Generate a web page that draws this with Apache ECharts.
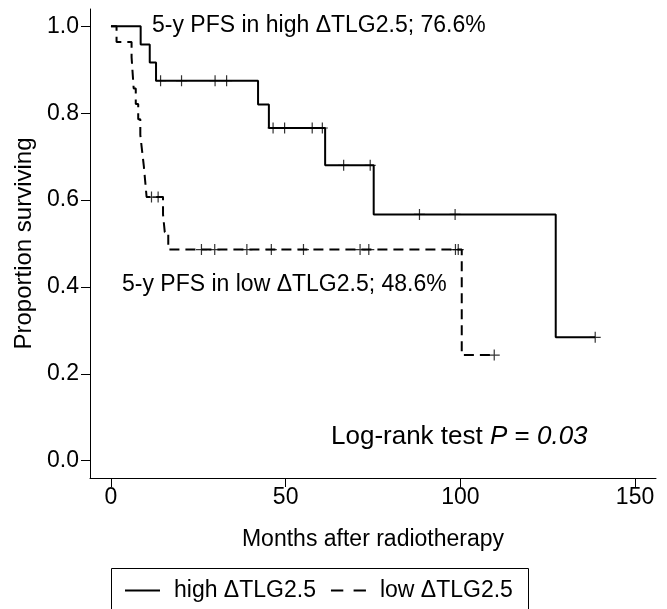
<!DOCTYPE html>
<html>
<head>
<meta charset="utf-8">
<script src="https://cdn.jsdelivr.net/npm/echarts@6/dist/echarts.min.js"></script>
<style>
html,body{margin:0;padding:0;background:#fff;}
#chart{width:667px;height:609px;}
</style>
</head>
<body>
<div id="chart"></div>
<script>
// ---- data (months, survival proportion) ----
var highEventTimes = [0, 8.5, 11.1, 12.9, 42.1, 45.2, 61.3, 75.2, 127.3];
var highSurv       = [1.0, 0.958, 0.917, 0.875, 0.820, 0.766, 0.680, 0.567, 0.284];
var highCensor     = [14.2, 20.2, 29.8, 33.1, 46.4, 49.7, 57.6, 60.5, 66.6, 74.2, 88.3, 98.5, 138.6];
var highLastFollowUp = 138.6;

var lowEventTimes = [0, 1.6, 5.9, 6.2, 6.5, 7.1, 7.8, 8.4, 8.9, 9.4, 9.8, 10.2, 14.9, 15.4, 16.4, 100.4];
var lowSurv       = [1.0, 0.964, 0.929, 0.893, 0.857, 0.821, 0.786, 0.750, 0.714, 0.679, 0.643, 0.607, 0.567, 0.526, 0.486, 0.243];
var lowCensor     = [11.6, 13.5, 25.9, 29.7, 38.9, 45.9, 55.1, 71.3, 73.8, 98.6, 99.4, 109.7];
var lowLastFollowUp = 109.7;

var xTicks = [0, 50, 100, 150];
var yTicks = [0, 0.2, 0.4, 0.6, 0.8, 1.0];

var seriesNames = ['high \u0394TLG2.5', 'low \u0394TLG2.5'];

// ---- helpers ----
function stepPoints(times, surv, last) {
  var pts = times.map(function (t, i) { return [t, surv[i]]; });
  pts.push([last, surv[surv.length - 1]]);
  return pts;
}
function levelAt(times, surv, t) {
  var s = surv[0];
  for (var i = 0; i < times.length; i++) { if (times[i] <= t) s = surv[i]; }
  return s;
}
function censorPoints(times, surv, cens) {
  return cens.map(function (t) { return [t, levelAt(times, surv, t)]; });
}

var FONT = "'Liberation Sans', Arial, Helvetica, sans-serif";
var plusPath = 'path://M-0.6,-5.5h1.2v4.9h4.9v1.2h-4.9v4.9h-1.2v-4.9h-4.9v-1.2h4.9z';

var chart = echarts.init(document.getElementById('chart'), null, {renderer: 'canvas'});
chart.setOption({
  backgroundColor: '#fff',
  animation: false,
  grid: {left: 90, right: 11, top: 9, bottom: 131, containLabel: false},
  xAxis: {
    type: 'value', min: -6, max: 156,
    name: 'Months after radiotherapy', nameLocation: 'middle', nameGap: 50,
    nameTextStyle: {fontFamily: FONT, fontSize: 23, color: '#000'},
    axisLine: {show: true, onZero: false, lineStyle: {color: '#000', width: 1}},
    axisTick: {show: true, length: 9, customValues: xTicks, lineStyle: {color: '#000', width: 1}},
    axisLabel: {customValues: xTicks, margin: 8, fontFamily: FONT, fontSize: 23, color: '#000'},
    splitLine: {show: false}
  },
  yAxis: {
    type: 'value', min: -0.04, max: 1.04,
    name: 'Proportion surviving', nameLocation: 'middle', nameGap: 52,
    nameTextStyle: {fontFamily: FONT, fontSize: 24, color: '#000'},
    axisLine: {show: true, onZero: false, lineStyle: {color: '#000', width: 1}},
    axisTick: {show: true, length: 9, customValues: yTicks, lineStyle: {color: '#000', width: 1}},
    axisLabel: {customValues: yTicks, margin: 11, fontFamily: FONT, fontSize: 23, color: '#000',
      formatter: function (v) { return v.toFixed(1); }},
    splitLine: {show: false}
  },
  legend: {
    left: 125, top: 579, padding: 0, itemGap: 15, itemWidth: 35, itemHeight: 14,
    data: [
      {name: seriesNames[0], icon: 'path://M0,0h35v2h-35z'},
      {name: seriesNames[1], icon: 'path://M0,0h12v2h-12z M22,0h12v2h-12z'}
    ],
    textStyle: {fontFamily: FONT, fontSize: 23, color: '#000', padding: [0, 0, 0, 9]},
    itemStyle: {color: '#000'}
  },
  graphic: [
    {type: 'rect', shape: {x: 111.5, y: 568.5, width: 417, height: 60}, style: {fill: 'none', stroke: '#000', lineWidth: 1}, silent: true},
    {type: 'text', x: 152, y: 26, style: {text: '5-y PFS in high \u0394TLG2.5; 76.6%', fontFamily: FONT, fontSize: 23, fill: '#000', verticalAlign: 'middle'}},
    {type: 'text', x: 122, y: 285, style: {text: '5-y PFS in low \u0394TLG2.5; 48.6%', fontFamily: FONT, fontSize: 23, fill: '#000', verticalAlign: 'middle'}},
    {type: 'text', x: 331, y: 437, style: {
      text: 'Log-rank test {i|P} = {i|0.03}', fontFamily: FONT, fontSize: 26, fill: '#000', verticalAlign: 'middle',
      rich: {i: {fontFamily: FONT, fontSize: 26, fontStyle: 'italic', fill: '#000'}}
    }}
  ],
  series: [
    {
      name: seriesNames[0], type: 'line', step: 'end', symbol: 'none',
      data: stepPoints(highEventTimes, highSurv, highLastFollowUp),
      lineStyle: {color: '#000', width: 2}, itemStyle: {color: '#000'}, z: 3
    },
    {
      name: seriesNames[1], type: 'line', step: 'end', symbol: 'none',
      data: stepPoints(lowEventTimes, lowSurv, lowLastFollowUp),
      lineStyle: {color: '#000', width: 2, type: [10, 6]}, itemStyle: {color: '#000'}, z: 3
    },
    {
      name: 'high censored', type: 'scatter', symbol: plusPath, symbolSize: [11, 11],
      data: censorPoints(highEventTimes, highSurv, highCensor),
      itemStyle: {color: '#000'}, z: 4, silent: true
    },
    {
      name: 'low censored', type: 'scatter', symbol: plusPath, symbolSize: [11, 11],
      data: censorPoints(lowEventTimes, lowSurv, lowCensor),
      itemStyle: {color: '#000'}, z: 4, silent: true
    }
  ]
});
</script>
</body>
</html>
